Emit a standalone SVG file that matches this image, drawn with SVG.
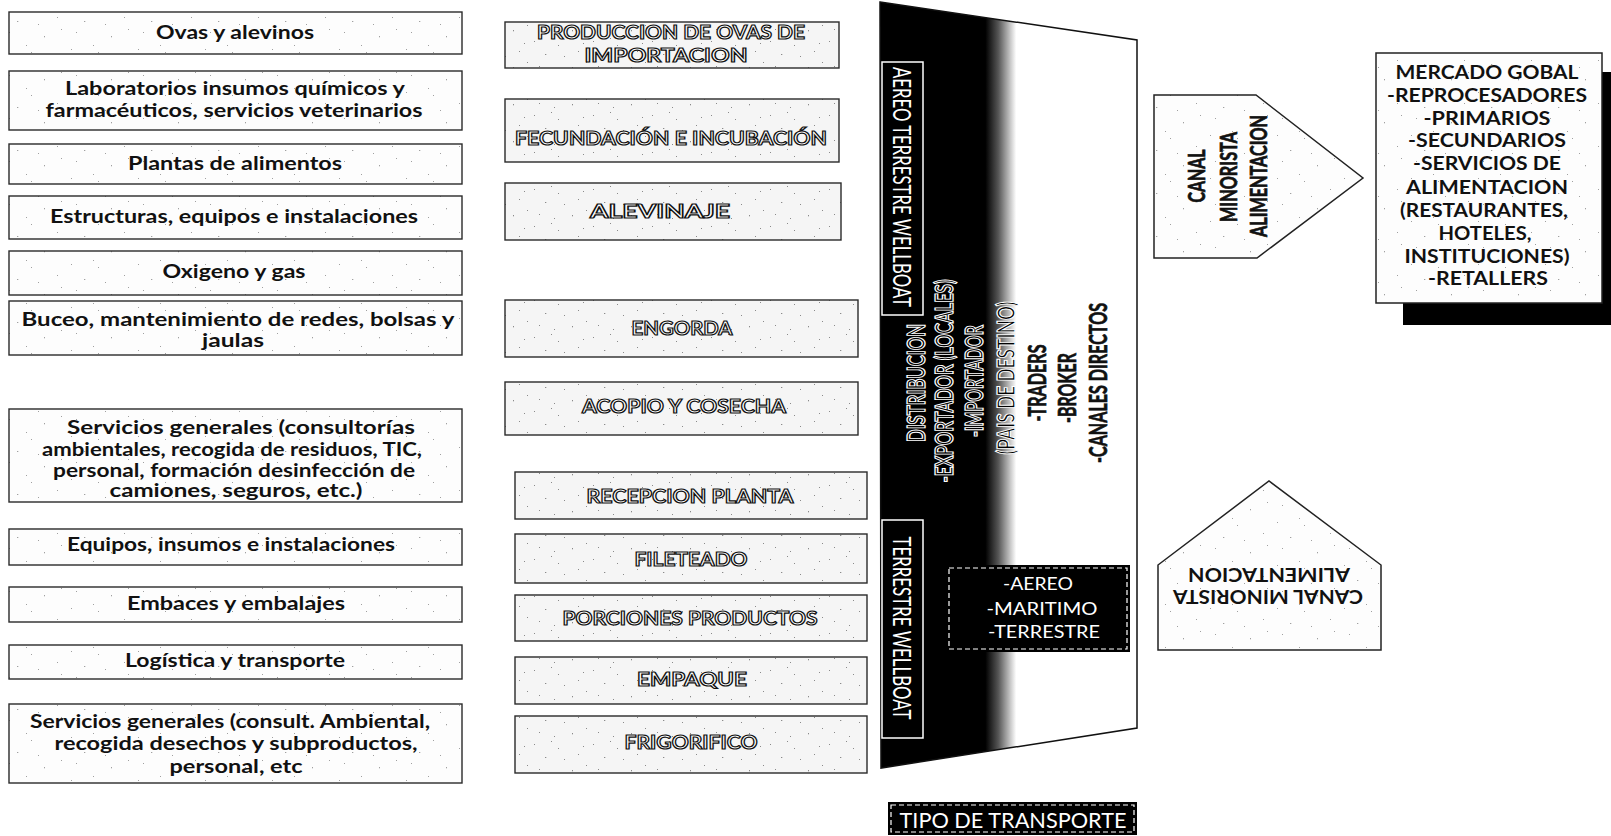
<svg xmlns="http://www.w3.org/2000/svg" width="1611" height="836" viewBox="0 0 1611 836">
<defs>
<pattern id="spk" width="67" height="43" patternUnits="userSpaceOnUse">
<rect width="67" height="43" fill="#fdfdfd"/>
<g fill="#a0a0a0">
<rect x="4" y="6" width="1" height="1"/><rect x="17" y="21" width="1.3" height="1"/><rect x="31" y="9" width="1" height="1"/>
<rect x="44" y="36" width="1" height="1.3"/><rect x="9" y="32" width="1" height="1"/><rect x="26" y="2" width="1" height="1"/>
<rect x="57" y="17" width="1" height="1"/><rect x="61" y="29" width="1" height="1"/><rect x="38" y="24" width="1" height="1"/>
</g>
</pattern>
<pattern id="spk2" width="59" height="37" patternUnits="userSpaceOnUse">
<rect width="59" height="37" fill="#f5f5f5"/>
<g fill="#8a8a8a">
<rect x="3" y="4" width="1" height="1"/><rect x="14" y="17" width="1.3" height="1"/><rect x="27" y="8" width="1" height="1"/>
<rect x="41" y="30" width="1" height="1.3"/><rect x="8" y="29" width="1" height="1"/><rect x="20" y="1" width="1" height="1"/>
<rect x="33" y="19" width="1" height="1"/><rect x="52" y="6" width="1" height="1"/><rect x="47" y="14" width="1" height="1"/>
<rect x="23" y="33" width="1" height="1"/><rect x="55" y="25" width="1" height="1"/>
</g>
</pattern>
<linearGradient id="dark" gradientUnits="userSpaceOnUse" x1="880" y1="0" x2="1137" y2="0">
<stop offset="0" stop-color="#000"/>
<stop offset="0.41" stop-color="#000"/>
<stop offset="0.46" stop-color="#555"/>
<stop offset="0.53" stop-color="#fff"/>
<stop offset="1" stop-color="#fff"/>
</linearGradient>
<style>
.box{fill:url(#spk);stroke:#2a2a2a;stroke-width:1.4}
.mbox{fill:url(#spk2);stroke:#2a2a2a;stroke-width:1.4}
.lt{font-family:Lato,"Liberation Sans",sans-serif;font-weight:bold;font-size:18px;fill:#111;text-anchor:middle}
.ot{font-family:Lato,"Liberation Sans",sans-serif;font-weight:bold;font-size:19px;fill:#fff;stroke:#111;stroke-width:1.2;text-anchor:middle}
.wo{font-family:Lato,"Liberation Sans",sans-serif;font-weight:bold;font-size:25px;fill:#000;stroke:#fff;stroke-width:1.3;text-anchor:middle}
.vw{font-family:Lato,"Liberation Sans",sans-serif;font-size:25px;fill:#fff;text-anchor:middle}
.vb{font-family:Lato,"Liberation Sans",sans-serif;font-weight:bold;font-size:25px;fill:#111;stroke:#111;stroke-width:0.7;text-anchor:middle}
.rt{font-family:Lato,"Liberation Sans",sans-serif;font-weight:bold;font-size:18px;fill:#111;text-anchor:middle}
.wt{font-family:Lato,"Liberation Sans",sans-serif;font-size:18px;fill:#fff;text-anchor:middle}
.arrow{fill:url(#spk);stroke:#222;stroke-width:1.5}
</style>
</defs>

<!-- Left column -->
<g id="n-ovas"><rect class="box" x="9" y="12" width="453" height="42"/><text class="lt" x="235" y="39" textLength="158" lengthAdjust="spacingAndGlyphs">Ovas y alevinos</text></g>
<g id="n-laboratorios"><rect class="box" x="9" y="71" width="453" height="59"/><text class="lt" x="235" y="95" textLength="340" lengthAdjust="spacingAndGlyphs">Laboratorios insumos químicos y</text><text class="lt" x="234" y="117" textLength="377" lengthAdjust="spacingAndGlyphs">farmacéuticos, servicios veterinarios</text></g>
<g id="n-plantas"><rect class="box" x="9" y="144" width="453" height="40"/><text class="lt" x="235" y="170" textLength="214" lengthAdjust="spacingAndGlyphs">Plantas de alimentos</text></g>
<g id="n-estructuras"><rect class="box" x="9" y="196" width="453" height="43"/><text class="lt" x="234" y="223" textLength="368" lengthAdjust="spacingAndGlyphs">Estructuras, equipos e instalaciones</text></g>
<g id="n-oxigeno"><rect class="box" x="9" y="251" width="453" height="44"/><text class="lt" x="234" y="278" textLength="143" lengthAdjust="spacingAndGlyphs">Oxigeno y gas</text></g>
<g id="n-buceo"><rect class="box" x="9" y="301" width="453" height="54"/><text class="lt" x="238" y="326" textLength="433" lengthAdjust="spacingAndGlyphs">Buceo, mantenimiento de redes, bolsas y</text><text class="lt" x="233" y="347" textLength="62" lengthAdjust="spacingAndGlyphs">jaulas</text></g>
<g id="n-servicios1"><rect class="box" x="9" y="409" width="453" height="93"/><text class="lt" x="241" y="434" textLength="348" lengthAdjust="spacingAndGlyphs">Servicios generales (consultorías</text><text class="lt" x="232" y="456" textLength="380" lengthAdjust="spacingAndGlyphs">ambientales, recogida de residuos, TIC,</text><text class="lt" x="234" y="477" textLength="362" lengthAdjust="spacingAndGlyphs">personal, formación desinfección de</text><text class="lt" x="236" y="497" textLength="253" lengthAdjust="spacingAndGlyphs">camiones, seguros, etc.)</text></g>
<g id="n-equipos"><rect class="box" x="9" y="529" width="453" height="36"/><text class="lt" x="231" y="551" textLength="328" lengthAdjust="spacingAndGlyphs">Equipos, insumos e instalaciones</text></g>
<g id="n-embaces"><rect class="box" x="9" y="587" width="453" height="35"/><text class="lt" x="236" y="610" textLength="218" lengthAdjust="spacingAndGlyphs">Embaces y embalajes</text></g>
<g id="n-logistica"><rect class="box" x="9" y="645" width="453" height="34"/><text class="lt" x="235" y="667" textLength="220" lengthAdjust="spacingAndGlyphs">Logística y transporte</text></g>
<g id="n-servicios2"><rect class="box" x="9" y="704" width="453" height="79"/><text class="lt" x="230" y="728" textLength="400" lengthAdjust="spacingAndGlyphs">Servicios generales (consult. Ambiental,</text><text class="lt" x="236" y="750" textLength="363" lengthAdjust="spacingAndGlyphs">recogida desechos y subproductos,</text><text class="lt" x="236" y="773" textLength="133" lengthAdjust="spacingAndGlyphs">personal, etc</text></g>

<!-- Middle column -->
<g id="n-produccion"><rect class="mbox" x="505" y="22" width="334" height="46"/><text class="ot" x="671" y="39" textLength="268" lengthAdjust="spacingAndGlyphs">PRODUCCION DE OVAS DE</text><text class="ot" x="666" y="62" textLength="163" lengthAdjust="spacingAndGlyphs">IMPORTACION</text></g>
<g id="n-fecundacion"><rect class="mbox" x="505" y="99" width="334" height="63"/><text class="ot" x="671" y="145" textLength="312" lengthAdjust="spacingAndGlyphs">FECUNDACIÓN E INCUBACIÓN</text></g>
<g id="n-alevinaje"><rect class="mbox" x="505" y="183" width="336" height="57"/><text class="ot" x="660" y="218" textLength="140" lengthAdjust="spacingAndGlyphs">ALEVINAJE</text></g>
<g id="n-engorda"><rect class="mbox" x="505" y="300" width="353" height="57"/><text class="ot" x="682" y="335" textLength="101" lengthAdjust="spacingAndGlyphs">ENGORDA</text></g>
<g id="n-acopio"><rect class="mbox" x="505" y="382" width="353" height="53"/><text class="ot" x="684" y="413" textLength="204" lengthAdjust="spacingAndGlyphs">ACOPIO Y COSECHA</text></g>
<g id="n-recepcion"><rect class="mbox" x="515" y="472" width="352" height="47"/><text class="ot" x="690" y="503" textLength="207" lengthAdjust="spacingAndGlyphs">RECEPCION PLANTA</text></g>
<g id="n-fileteado"><rect class="mbox" x="515" y="534" width="352" height="49"/><text class="ot" x="691" y="566" textLength="113" lengthAdjust="spacingAndGlyphs">FILETEADO</text></g>
<g id="n-porciones"><rect class="mbox" x="515" y="595" width="352" height="46"/><text class="ot" x="690" y="625" textLength="255" lengthAdjust="spacingAndGlyphs">PORCIONES PRODUCTOS</text></g>
<g id="n-empaque"><rect class="mbox" x="515" y="657" width="352" height="47"/><text class="ot" x="692" y="686" textLength="110" lengthAdjust="spacingAndGlyphs">EMPAQUE</text></g>
<g id="n-frigorifico"><rect class="mbox" x="515" y="716" width="352" height="57"/><text class="ot" x="691" y="749" textLength="133" lengthAdjust="spacingAndGlyphs">FRIGORIFICO</text></g>

<!-- Distribution trapezoid -->
<g id="n-distribucion">
<polygon points="880,2 1137,40 1137,728 881,768" fill="url(#dark)" stroke="#111" stroke-width="1.5"/>
<rect x="882" y="62" width="41" height="253" fill="none" stroke="#fff" stroke-width="1.5"/>
<text class="vw" transform="translate(893,187) rotate(90)" textLength="240" lengthAdjust="spacingAndGlyphs">AEREO TERRESTRE WELLBOAT</text>
<rect x="882" y="520" width="41" height="218" fill="none" stroke="#fff" stroke-width="1.5"/>
<text class="vw" transform="translate(893,628) rotate(90)" textLength="183" lengthAdjust="spacingAndGlyphs">TERRESTRE WELLBOAT</text>
<text class="wo" transform="translate(925,383) rotate(-90)" textLength="118" lengthAdjust="spacingAndGlyphs">DISTRIBUCION</text>
<text class="wo" transform="translate(953,381) rotate(-90)" textLength="203" lengthAdjust="spacingAndGlyphs">-EXPORTADOR (LOCALES)</text>
<text class="wo" transform="translate(983,381) rotate(-90)" textLength="112" lengthAdjust="spacingAndGlyphs">-IMPORTADOR</text>
<text class="wo" transform="translate(1015,378) rotate(-90)" textLength="153" lengthAdjust="spacingAndGlyphs">(PAIS DE DESTINO)</text>
<text class="vb" transform="translate(1046,383) rotate(-90)" textLength="77" lengthAdjust="spacingAndGlyphs">-TRADERS</text>
<text class="vb" transform="translate(1076,388) rotate(-90)" textLength="70" lengthAdjust="spacingAndGlyphs">-BROKER</text>
<text class="vb" transform="translate(1107,383) rotate(-90)" textLength="160" lengthAdjust="spacingAndGlyphs">-CANALES DIRECTOS</text>
</g>

<g id="n-tipos">
<rect x="946" y="565" width="184" height="87" fill="#000"/>
<rect x="949" y="568" width="178" height="81" fill="none" stroke="#fff" stroke-width="1.2" stroke-dasharray="5 3"/>
<text class="wt" x="1038" y="590" textLength="70" lengthAdjust="spacingAndGlyphs">-AEREO</text>
<text class="wt" x="1042" y="615" textLength="111" lengthAdjust="spacingAndGlyphs">-MARITIMO</text>
<text class="wt" x="1044" y="638" textLength="112" lengthAdjust="spacingAndGlyphs">-TERRESTRE</text>
</g>

<g id="n-tipo-transporte">
<rect x="888" y="802" width="249" height="33" fill="#000"/>
<rect x="891" y="805" width="243" height="27" fill="none" stroke="#fff" stroke-width="1.2" stroke-dasharray="5 3"/>
<text class="wt" x="1013" y="828" style="font-size:21px" textLength="227" lengthAdjust="spacingAndGlyphs">TIPO DE TRANSPORTE</text>
</g>

<!-- Canal minorista (arrow right) -->
<g id="n-canal-1">
<polygon class="arrow" points="1154,95 1256,95 1363,178 1257,258 1154,258"/>
<text class="vb" style="font-size:23px" transform="translate(1205,176) rotate(-90)" textLength="53" lengthAdjust="spacingAndGlyphs">CANAL</text>
<text class="vb" style="font-size:23px" transform="translate(1237,177) rotate(-90)" textLength="90" lengthAdjust="spacingAndGlyphs">MINORISTA</text>
<text class="vb" style="font-size:23px" transform="translate(1267,176) rotate(-90)" textLength="122" lengthAdjust="spacingAndGlyphs">ALIMENTACION</text>
</g>

<!-- Mercado global -->
<g id="n-mercado">
<rect x="1403" y="72" width="210" height="253" fill="#000"/>
<rect x="1376" y="53" width="226" height="250" fill="url(#spk)" stroke="#222" stroke-width="1.5"/>
<text class="rt" x="1487" y="79" textLength="183" lengthAdjust="spacingAndGlyphs">MERCADO GOBAL</text>
<text class="rt" x="1487" y="102" textLength="200" lengthAdjust="spacingAndGlyphs">-REPROCESADORES</text>
<text class="rt" x="1487" y="125" textLength="127" lengthAdjust="spacingAndGlyphs">-PRIMARIOS</text>
<text class="rt" x="1487" y="147" textLength="158" lengthAdjust="spacingAndGlyphs">-SECUNDARIOS</text>
<text class="rt" x="1487" y="170" textLength="148" lengthAdjust="spacingAndGlyphs">-SERVICIOS DE</text>
<text class="rt" x="1487" y="194" textLength="162" lengthAdjust="spacingAndGlyphs">ALIMENTACION</text>
<text class="rt" x="1484" y="217" textLength="168" lengthAdjust="spacingAndGlyphs">(RESTAURANTES,</text>
<text class="rt" x="1485" y="240" textLength="93" lengthAdjust="spacingAndGlyphs">HOTELES,</text>
<text class="rt" x="1487" y="263" textLength="165" lengthAdjust="spacingAndGlyphs">INSTITUCIONES)</text>
<text class="rt" x="1488" y="285" textLength="120" lengthAdjust="spacingAndGlyphs">-RETALLERS</text>
</g>

<!-- Canal minorista (arrow up, text upside down) -->
<g id="n-canal-2">
<polygon class="arrow" points="1158,565 1269,481 1381,565 1381,650 1158,650"/>
<text class="rt" transform="translate(1268,590) rotate(180)" textLength="190" lengthAdjust="spacingAndGlyphs">CANAL MINORISTA</text>
<text class="rt" transform="translate(1269,568) rotate(180)" textLength="162" lengthAdjust="spacingAndGlyphs">ALIMENTACION</text>
</g>

<g id="connectors"></g>
</svg>
